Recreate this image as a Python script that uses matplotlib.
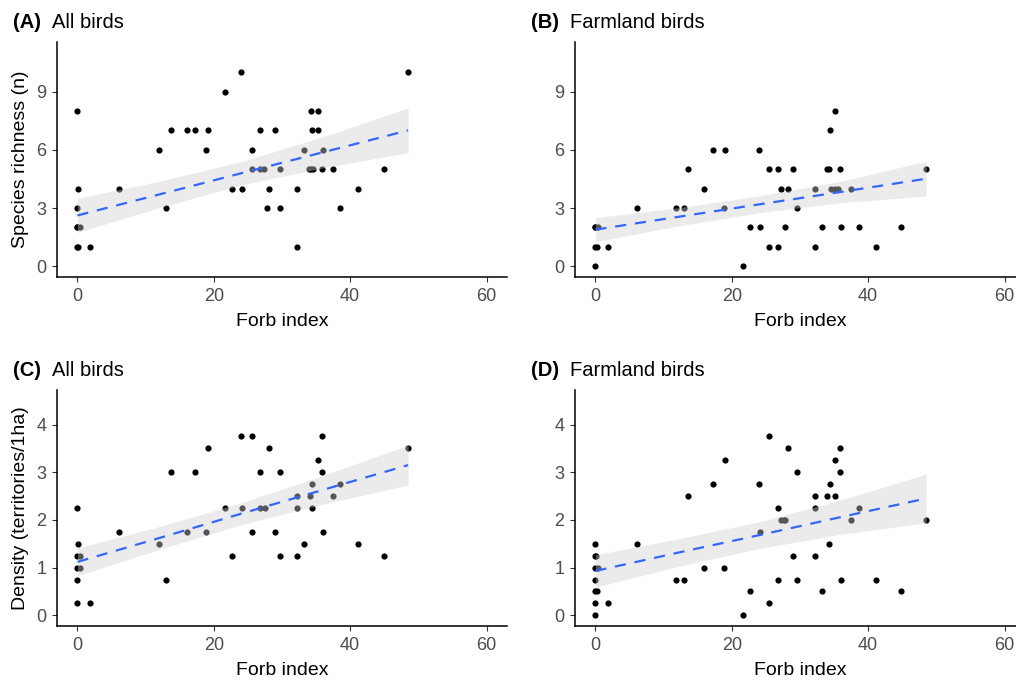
import numpy as np
import matplotlib
matplotlib.use("Agg")
import matplotlib.pyplot as plt

plt.rcParams['font.family'] = ['Liberation Sans', 'DejaVu Sans']

# forb index / response values
a_x = [0, 0.15, 0, 0, 0.3, 0, 0, 0.15, 1.9, 6.05, 11.9, 13.0, 13.7, 16.0, 17.3, 18.9,
       19.1, 21.7, 22.7, 24.0, 24.2, 25.6, 25.6, 26.7, 26.8, 27.3, 27.8, 28.1, 29.0,
       29.7, 29.7, 32.2, 32.2, 33.2, 34.0, 34.2, 34.5, 34.2, 34.4, 35.3, 35.3, 35.8,
       36.0, 37.5, 38.5, 41.2, 44.9, 48.5]
a_y = [8, 4, 3, 2, 2, 2, 1, 1, 1, 4, 6, 3, 7, 7, 7, 6,
       7, 9, 4, 10, 4, 6, 5, 5, 7, 5, 3, 4, 7,
       5, 3, 4, 1, 6, 5, 5, 5, 8, 7, 8, 7, 5,
       6, 5, 3, 4, 5, 10]

b_x = [0, 0.3, 0, 0, 0.25, 0, 1.9, 6.05, 11.85, 13.0, 13.6, 15.95, 17.3, 18.8, 19.0,
       21.6, 22.7, 24.0, 24.2, 25.5, 25.5, 26.7, 26.8, 27.2, 27.8, 28.2, 29.0, 29.6,
       32.2, 32.2, 33.2, 34.0, 34.2, 34.4, 34.5, 35.2, 35.6, 35.2, 35.8, 36.0, 37.5,
       38.6, 41.2, 44.8, 48.5]
b_y = [2, 2, 2, 1, 1, 0, 1, 3, 3, 3, 5, 4, 6, 3, 6,
       0, 2, 6, 2, 5, 1, 5, 1, 4, 2, 4, 5, 3,
       4, 1, 2, 5, 5, 7, 4, 4, 4, 8, 5, 2, 4,
       2, 1, 2, 5]

c_x = [0, 0.15, 0, 0.3, 0, 0.3, 0, 0, 1.9, 6.05, 11.9, 13.0, 13.7, 16.0, 17.3, 18.9,
       19.1, 21.7, 22.7, 24.0, 24.2, 25.6, 25.6, 26.7, 26.8, 27.5, 28.1, 29.0, 29.7,
       29.7, 32.2, 32.2, 32.2, 33.2, 34.1, 34.4, 34.4, 35.3, 35.8, 35.8, 36.0, 37.5,
       38.5, 41.2, 44.9, 48.5]
c_y = [2.25, 1.5, 1.25, 1.25, 1.0, 1.0, 0.75, 0.25, 0.25, 1.75, 1.5, 0.75, 3.0, 1.75, 3.0, 1.75,
       3.5, 2.25, 1.25, 3.75, 2.25, 3.75, 1.75, 2.25, 3.0, 2.25, 3.5, 1.75, 3.0,
       1.25, 2.5, 2.25, 1.25, 1.5, 2.5, 2.75, 2.25, 3.25, 3.75, 3.0, 1.75, 2.5,
       2.75, 1.5, 1.25, 3.5]

d_x = [0, 0, 0.15, 0, 0.3, 0, 0, 0.25, 0, 0, 1.9, 6.05, 11.85, 13.0, 13.6, 15.95, 17.3,
       18.8, 19.0, 21.6, 22.7, 24.0, 24.2, 25.5, 25.5, 26.7, 26.8, 27.2, 27.6, 27.8,
       28.2, 29.0, 29.6, 29.6, 32.2, 32.2, 32.2, 33.2, 34.0, 34.2, 34.4, 35.2, 35.2,
       35.8, 35.8, 36.0, 37.5, 38.6, 41.2, 44.8, 48.5]
d_y = [1.5, 1.25, 1.25, 1.0, 1.0, 0.75, 0.5, 0.5, 0.25, 0, 0.25, 1.5, 0.75, 0.75, 2.5, 1.0, 2.75,
       1.0, 3.25, 0, 0.5, 2.75, 1.75, 3.75, 0.25, 2.25, 0.75, 2.0, 2.0, 2.0,
       3.5, 1.25, 3.0, 0.75, 2.5, 2.25, 1.25, 0.5, 2.5, 1.5, 2.75, 3.25, 2.5,
       3.5, 3.0, 0.75, 2.0, 2.25, 0.75, 0.5, 2.0]

# fitted line and confidence band
band_x = [0, 12, 24, 36, 48.5]
a_fit = [2.62, 3.70, 4.79, 5.87, 7.00]
a_lo = [1.74, 3.02, 4.19, 5.07, 5.85]
a_hi = [3.50, 4.38, 5.39, 6.67, 8.15]
b_fit = [1.89, 2.54, 3.19, 3.83, 4.51]
b_lo = [1.27, 2.07, 2.76, 3.28, 3.61]
b_hi = [2.51, 3.01, 3.62, 4.38, 5.41]
c_fit = [1.12, 1.62, 2.13, 2.63, 3.15]
c_lo = [0.83, 1.38, 1.90, 2.33, 2.73]
c_hi = [1.41, 1.86, 2.36, 2.93, 3.57]
d_fit = [0.93, 1.31, 1.68, 2.06, 2.45]
d_lo = [0.59, 1.02, 1.40, 1.70, 1.94]
d_hi = [1.27, 1.60, 1.96, 2.42, 2.96]

tags = ["(A)", "(B)", "(C)", "(D)"]
titles = ["All birds", "Farmland birds", "All birds", "Farmland birds"]
ylabels = ["Species richness (n)", None, "Density (territories/1ha)", None]
yticks_top = [0, 3, 6, 9]
yticks_bot = [0, 1, 2, 3, 4]
xticks = [0, 20, 40, 60]

fig = plt.figure(figsize=(10.16, 6.84), dpi=100)
W, H = 1016, 684
# axes boxes in pixels: left, top, right, bottom
boxes = [(57, 42, 507, 277), (575, 42, 1025, 277),
         (57, 390, 507, 626), (575, 390, 1025, 626)]
points = [(a_x, a_y), (b_x, b_y), (c_x, c_y), (d_x, d_y)]
smooth = [(a_fit, a_lo, a_hi), (b_fit, b_lo, b_hi),
          (c_fit, c_lo, c_hi), (d_fit, d_lo, d_hi)]

for i in range(4):
    l, t, r, btm = boxes[i]
    ax = fig.add_axes([l / W, 1 - btm / H, (r - l) / W, (btm - t) / H])
    x, y = points[i]
    fit, lo, hi = smooth[i]
    ax.scatter(x, y, s=20, color='black', linewidths=0, zorder=2)
    # band drawn over the points, as ggplot does, so covered points look grey
    ax.fill_between(band_x, lo, hi, color='#cfcfcf', alpha=0.41, linewidth=0, zorder=3)
    ax.plot(band_x, fit, color='#3366FF', lw=1.6, dashes=(5.0, 4.0), zorder=4)

    ax.set_xlim(-3, 63)
    ax.set_xticks(xticks)
    if i < 2:
        ax.set_ylim(-0.55, 11.55)
        ax.set_yticks(yticks_top)
    else:
        ax.set_ylim(-0.225, 4.725)
        ax.set_yticks(yticks_bot)

    for side in ['top', 'right']:
        ax.spines[side].set_visible(False)
    for side in ['left', 'bottom']:
        ax.spines[side].set_linewidth(1.1)
        ax.spines[side].set_color('black')
    ax.tick_params(length=3.8, width=0.8, color='#333333', labelcolor='#4d4d4d',
                   labelsize=13, pad=4)
    ax.set_xlabel("Forb index", fontsize=14, color='black', labelpad=6)
    if ylabels[i]:
        ax.set_ylabel(ylabels[i], fontsize=14, color='black', labelpad=5)

    tx = 13 if i % 2 == 0 else 531
    ty = 28 if i < 2 else 376
    tag = fig.text(tx / W, 1 - ty / H, tags[i], fontsize=14.5, fontweight='bold',
                   ha='left', va='baseline')
    ax.annotate(titles[i], xy=(1, 0), xycoords=tag, xytext=(8, 0),
                textcoords='offset points', fontsize=14.5, ha='left', va='bottom')

fig.savefig("out.png", dpi=100)
